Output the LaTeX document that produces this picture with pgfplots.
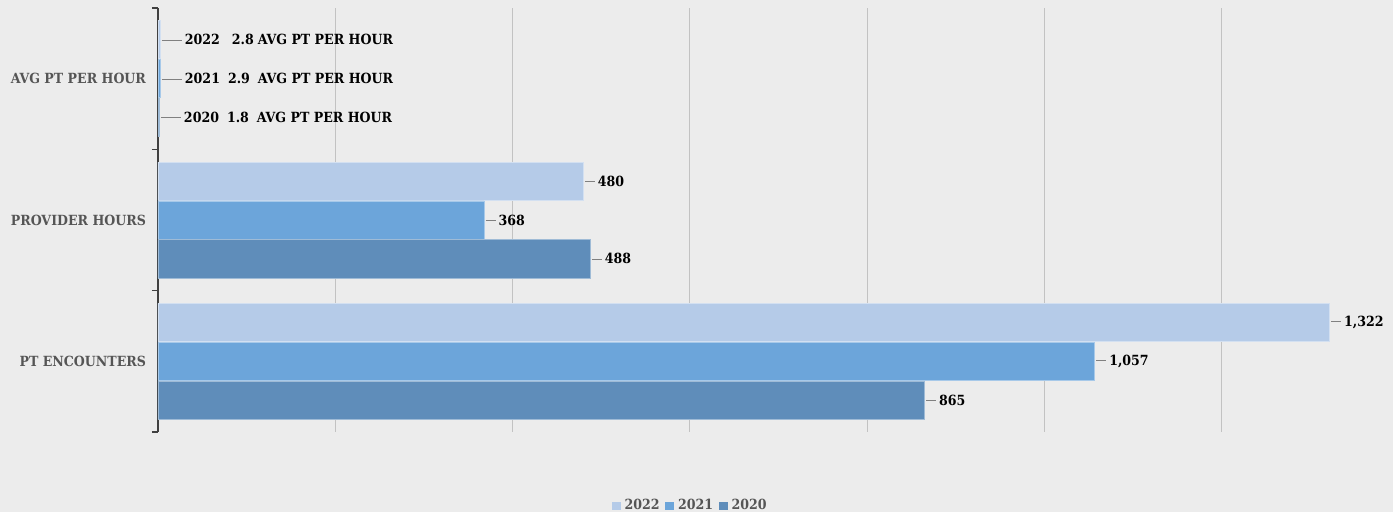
\documentclass[border=0pt]{standalone}
\usepackage{pgfplots}
\pgfplotsset{compat=1.18}
\usepackage{fontspec}
\setmainfont{DejaVu Serif Condensed}

\definecolor{bg}{HTML}{ECECEC}
\definecolor{c22}{HTML}{B5CBE8}
\definecolor{c21}{HTML}{6CA5DA}
\definecolor{c20}{HTML}{5F8DBA}
\definecolor{axisgray}{HTML}{404040}
\definecolor{labgray}{HTML}{555555}
\definecolor{gridgray}{HTML}{C2C2C2}

\newcommand{\lab}{\fontsize{7}{8.4}\selectfont\bfseries}
\newcommand{\lead}[1]{\textcolor{gray}{\rule[0.3em]{#1}{0.5pt}}}

\begin{document}
\begin{tikzpicture}
\fill[bg] (0,0) rectangle (696.5pt,256pt);
\begin{axis}[
    at={(79pt,40pt)}, anchor=south west,
    scale only axis,
    width=616pt, height=212pt,
    xbar, bar width=0.27,
    xmin=0, xmax=1390,
    ymin=-0.5, ymax=2.5,
    enlarge y limits=false,
    separate axis lines,
    axis x line*=bottom,
    x axis line style={draw=none},
    axis y line*=left,
    y axis line style={draw=axisgray, line width=0.8pt, -},
    xtick={200,400,...,1200},
    xticklabels={},
    xtick style={draw=none},
    xmajorgrids,
    grid style={draw=gridgray, line width=0.4pt},
    ytick={0,1,2},
    yticklabels={PT ENCOUNTERS, PROVIDER HOURS, AVG PT PER HOUR},
    major tick length=0pt,
    minor ytick={-0.5,0.5,1.5,2.5},
    minor tick length=3pt,
    ytick align=outside,
    minor y tick style={draw=axisgray, line width=0.8pt},
    yticklabel style={font=\lab, text=labgray, xshift=-2.5pt},
    point meta=x,
    /pgf/number format/assume math mode=true,
    /pgf/number format/1000 sep={,},
    every node near coord/.append style={anchor=west, inner sep=0.5pt, font=\lab, text=black},
    legend image code/.code={\fill[#1,draw=none] (0pt,-2.2pt) rectangle (4.4pt,2.2pt);},
    legend style={at={(0.4318,-0.1745)}, anchor=center, draw=none, fill=none,
        legend columns=3, font=\lab, text=labgray,
        nodes={inner xsep=0.8pt},
        /tikz/every odd column/.append style={column sep=1.2pt},
        /tikz/every even column/.append style={column sep=2pt}},
    clip=false
  ]

  % PT ENCOUNTERS (0) and PROVIDER HOURS (1)
  \addplot[fill=c22, draw=c22!60!white, bar shift=0.275,
    nodes near coords={\lead{5pt}\hspace{1.5pt}\pgfmathprintnumber{\pgfplotspointmeta}}]
    coordinates {(1322,0) (480,1)};
  \addlegendentry{2022}
  \addplot[fill=c21, draw=c21!60!white, bar shift=0,
    nodes near coords={\lead{5pt}\hspace{1.5pt}\pgfmathprintnumber{\pgfplotspointmeta}}]
    coordinates {(1057,0) (368,1)};
  \addlegendentry{2021}
  \addplot[fill=c20, draw=c20!60!white, bar shift=-0.275,
    nodes near coords={\lead{5pt}\hspace{1.5pt}\pgfmathprintnumber{\pgfplotspointmeta}}]
    coordinates {(865,0) (488,1)};
  \addlegendentry{2020}

  % AVG PT PER HOUR (2)
  \addplot[forget plot, fill=c22, draw=c22!60!white, bar shift=0.275,
    nodes near coords={\lead{10pt}\hspace{1.5pt}2022\hspace{6pt}\pgfmathprintnumber{\pgfplotspointmeta}\hspace{2pt}AVG PT PER HOUR}]
    coordinates {(2.8,2)};
  \addplot[forget plot, fill=c21, draw=c21!60!white, bar shift=0,
    nodes near coords={\lead{10pt}\hspace{1.5pt}2021\hspace{4pt}\pgfmathprintnumber{\pgfplotspointmeta}\hspace{4pt}AVG PT PER HOUR}]
    coordinates {(2.9,2)};
  \addplot[forget plot, fill=c20, draw=c20!60!white, bar shift=-0.275,
    nodes near coords={\lead{10pt}\hspace{1.5pt}2020\hspace{4pt}\pgfmathprintnumber{\pgfplotspointmeta}\hspace{4pt}AVG PT PER HOUR}]
    coordinates {(1.8,2)};
\end{axis}
\pgfresetboundingbox
\useasboundingbox (0,0) rectangle (696.5pt,256pt);
\end{tikzpicture}
\end{document}
